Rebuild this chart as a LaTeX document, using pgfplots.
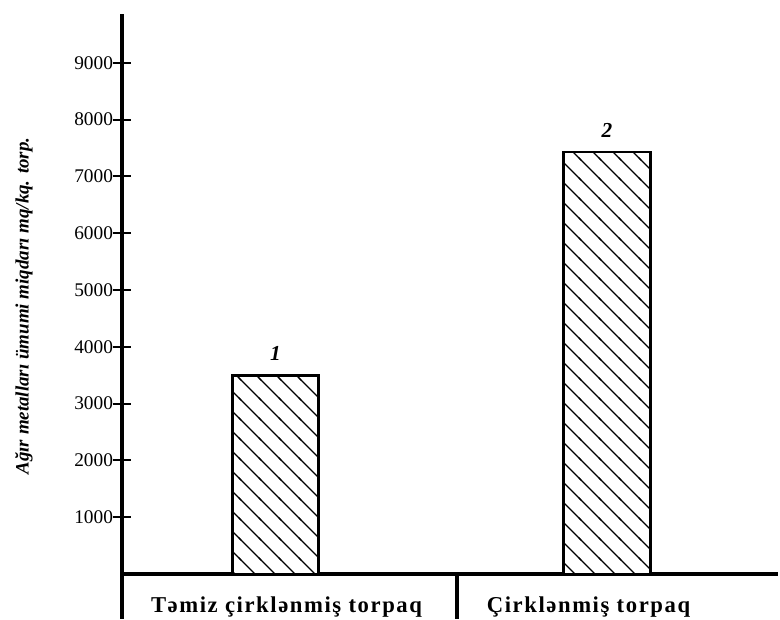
\documentclass[border=0pt]{standalone}
\usepackage{fontspec}
\setmainfont{Liberation Serif}
\usepackage{pgfplots}
\pgfplotsset{compat=1.18}
\usetikzlibrary{patterns}

% wide hatch, top-left to bottom-right
\pgfdeclarepatternformonly{widehatch}{\pgfqpoint{-1pt}{-1pt}}{\pgfqpoint{16pt}{16pt}}{\pgfqpoint{15pt}{15pt}}{%
  \pgfsetlinewidth{1pt}%
  \pgfpathmoveto{\pgfqpoint{-1pt}{16pt}}%
  \pgfpathlineto{\pgfqpoint{16pt}{-1pt}}%
  \pgfusepath{stroke}%
}

\begin{document}
\begin{tikzpicture}
\path[use as bounding box] (0,0) rectangle (585pt,464.25pt);
\begin{axis}[
    at={(91.5pt,33.75pt)}, anchor=south west,
    scale only axis,
    width=492pt, height=420pt,
    xmin=0, xmax=656,
    ymin=0, ymax=9860,
    axis x line*=bottom,
    axis y line*=left,
    x axis line style={line width=2.3pt, -},
    y axis line style={line width=3pt, -},
    xtick={164.5,466.5},
    xticklabels={Təmiz çirklənmiş torpaq, Çirklənmiş torpaq},
    x tick label style={font=\fontsize{17}{19}\selectfont\bfseries\addfontfeature{LetterSpace=7}, anchor=base, yshift=-22pt},
    major x tick style={draw=none},
    ytick={1000,2000,...,9000},
    y tick label style={font=\fontsize{14.5}{16}\selectfont, xshift=3.5pt, /pgf/number format/assume math mode=true, /pgf/number format/1000 sep={}},
    major tick length=13.5pt,
    tick align=center,
    major y tick style={line width=1.5pt, black},
    clip=false,
    point meta=explicit symbolic,
    nodes near coords={\textbf{\textit{\pgfplotspointmeta}}},
    every node near coord/.style={font=\fontsize{16}{18}\selectfont, anchor=base, yshift=11pt},
]
\addplot[ybar, bar width=65pt, draw=black, line width=2.2pt, fill=white, postaction={pattern=widehatch}]
  coordinates {(153.5,3500) [1] (485,7430) [2]};
\draw[line width=3pt] (axis cs:0,0) -- (axis cs:0,-800);
\draw[line width=2.3pt] (axis cs:335,0) -- (axis cs:335,-800);
\node[rotate=90, font=\fontsize{14.2}{16}\selectfont\bfseries\itshape] at (axis cs:-98,4718)
  {Ağır metalları ümumi miqdarı mq/kq. torp.};
\end{axis}
\end{tikzpicture}
\end{document}
